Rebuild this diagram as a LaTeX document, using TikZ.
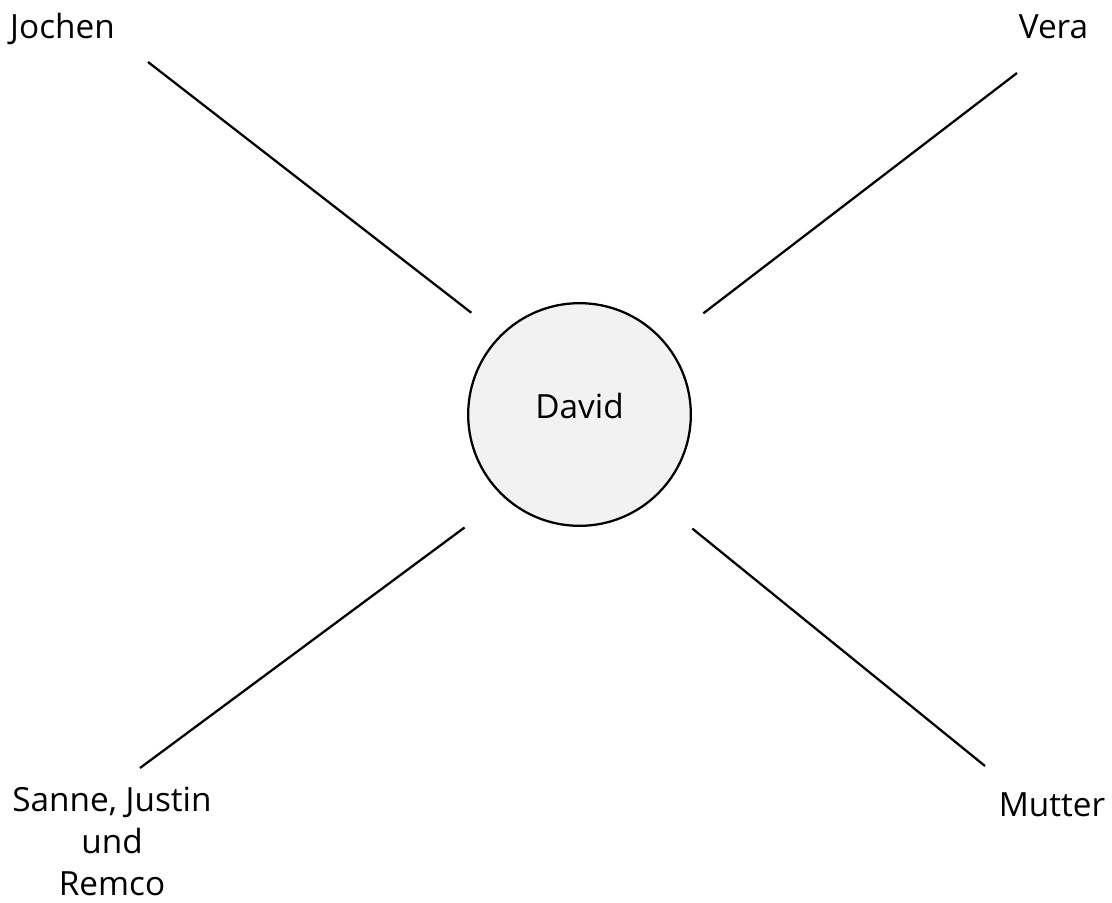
\documentclass[tikz,border=0pt]{standalone}
\usepackage{fontspec}
\setmainfont{Open Sans}
\usepackage{tikz}
\definecolor{centrefill}{HTML}{F2F2F2}
\tikzstyle{every node}=[inner sep=0pt,font=\fontsize{25}{31.5}\selectfont]
\tikzstyle{person}=[anchor=base]
\tikzstyle{centre}=[circle,draw=black,line width=1.7pt,fill=centrefill,minimum size=167pt,text depth=13.5pt]
\tikzstyle{link}=[line width=1.7pt]

\begin{document}
\begin{tikzpicture}[x=0.75pt,y=-0.75pt]
  \path[use as bounding box] (0,0) rectangle (1112,902);
  \node[centre] (david) at (579.5,414.5) {David};
  \node[person] (jochen) at (62.5,39) {Jochen};
  \node[person] (vera) at (1053.5,39) {Vera};
  \node[person,align=center] (sanne) at (112,895) {Sanne, Justin\\und\\Remco};
  \node[person] (mutter) at (1052,816) {Mutter};
  % free ends of the links
  \coordinate (jochen end) at (148,62);
  \coordinate (vera end) at (1017,73);
  \coordinate (sanne end) at (140,768);
  \coordinate (mutter end) at (985,766);
  \draw[link,shorten >=27.2pt] (jochen end) -- (david.135.5);
  \draw[link,shorten >=35.6pt] (vera end) -- (david.40.3);
  \draw[link,shorten >=37pt] (sanne end) -- (david.228.4);
  \draw[link,shorten >=36.3pt] (mutter end) -- (david.312.5);
\end{tikzpicture}
\end{document}
